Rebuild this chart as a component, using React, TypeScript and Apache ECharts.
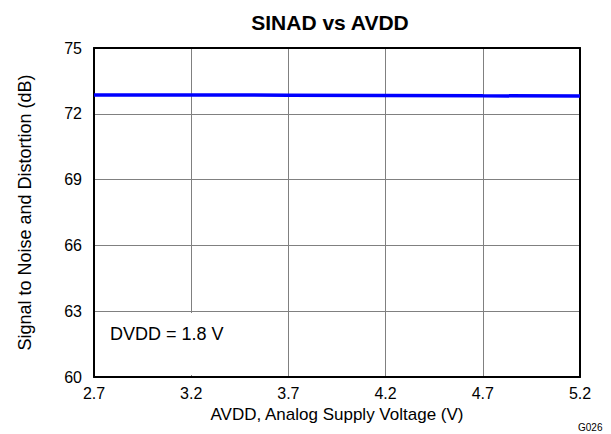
import React, { useEffect, useRef } from "react";
import * as echarts from "echarts";

const avdd = [2.7, 3.2, 3.7, 4.2, 4.7, 5.2];
const sinad = [72.86, 72.86, 72.85, 72.84, 72.82, 72.81];
const yTicks = { min: 60, max: 75, interval: 3 };
const xTicks = { min: 2.7, max: 5.2, interval: 0.5 };

const FONT = "Liberation Sans, Arial, sans-serif";

export default function App() {
  const ref = useRef<HTMLDivElement>(null);
  useEffect(() => {
    if (!ref.current) return;
    const chart = echarts.init(ref.current, undefined, { renderer: "svg" });
    const frameAxis = {
      type: "value",
      axisLine: { show: true, onZero: false, lineStyle: { color: "#000", width: 2 } },
      axisTick: { show: false },
      axisLabel: { show: false },
      splitLine: { show: false },
    };
    chart.setOption({
      animation: false,
      backgroundColor: "#ffffff",
      textStyle: { fontFamily: FONT },
      title: {
        text: "SINAD vs AVDD",
        left: 325,
        top: 7,
        textAlign: "center",
        textStyle: { fontFamily: FONT, fontSize: 21, fontWeight: "bold", color: "#000" },
      },
      grid: { left: 94, right: 31, top: 48, bottom: 57 },
      xAxis: [
        {
          type: "value",
          min: xTicks.min,
          max: xTicks.max,
          interval: xTicks.interval,
          name: "AVDD, Analog Supply Voltage (V)",
          nameLocation: "middle",
          nameGap: 24,
          nameTextStyle: { fontFamily: FONT, fontSize: 17, color: "#000" },
          axisLine: { show: true, onZero: false, lineStyle: { color: "#000", width: 2 } },
          axisTick: { show: false },
          axisLabel: { fontFamily: FONT, fontSize: 16, color: "#000", margin: 8, formatter: (v: number) => v.toFixed(1) },
          splitLine: { show: true, lineStyle: { color: "#808080", width: 1 } },
          z: 0,
        },
        { ...frameAxis, position: "top", min: xTicks.min, max: xTicks.max, z: 3 },
      ],
      yAxis: [
        {
          type: "value",
          min: yTicks.min,
          max: yTicks.max,
          interval: yTicks.interval,
          name: "Signal to Noise and Distortion (dB)",
          nameLocation: "middle",
          nameGap: 60,
          nameTextStyle: { fontFamily: FONT, fontSize: 18, color: "#000" },
          axisLine: { show: true, onZero: false, lineStyle: { color: "#000", width: 2 } },
          axisTick: { show: false },
          axisLabel: { fontFamily: FONT, fontSize: 16, color: "#000", margin: 12 },
          splitLine: { show: true, lineStyle: { color: "#808080", width: 1 } },
          z: 0,
        },
        { ...frameAxis, position: "right", min: yTicks.min, max: yTicks.max, z: 3 },
      ],
      graphic: [
        { type: "rect", left: 96, top: 313, shape: { width: 136, height: 62 }, style: { fill: "#ffffff" }, z: 1 },
        { type: "text", left: 110, top: 325, style: { text: "DVDD = 1.8 V", fontFamily: FONT, fontSize: 18, fill: "#000" }, z: 11 },
        { type: "text", left: 578, top: 422, style: { text: "G026", fontFamily: FONT, fontSize: 10, fill: "#000" }, z: 11 },
      ],
      series: [
        {
          type: "line",
          data: avdd.map((x, i) => [x, sinad[i]]),
          showSymbol: false,
          lineStyle: { color: "#0000ff", width: 3.5 },
          z: 5,
        },
      ],
    });
    return () => chart.dispose();
  }, []);
  return <div ref={ref} style={{ position: "absolute", left: 0, top: 0, width: 611, height: 434 }} />;
}
